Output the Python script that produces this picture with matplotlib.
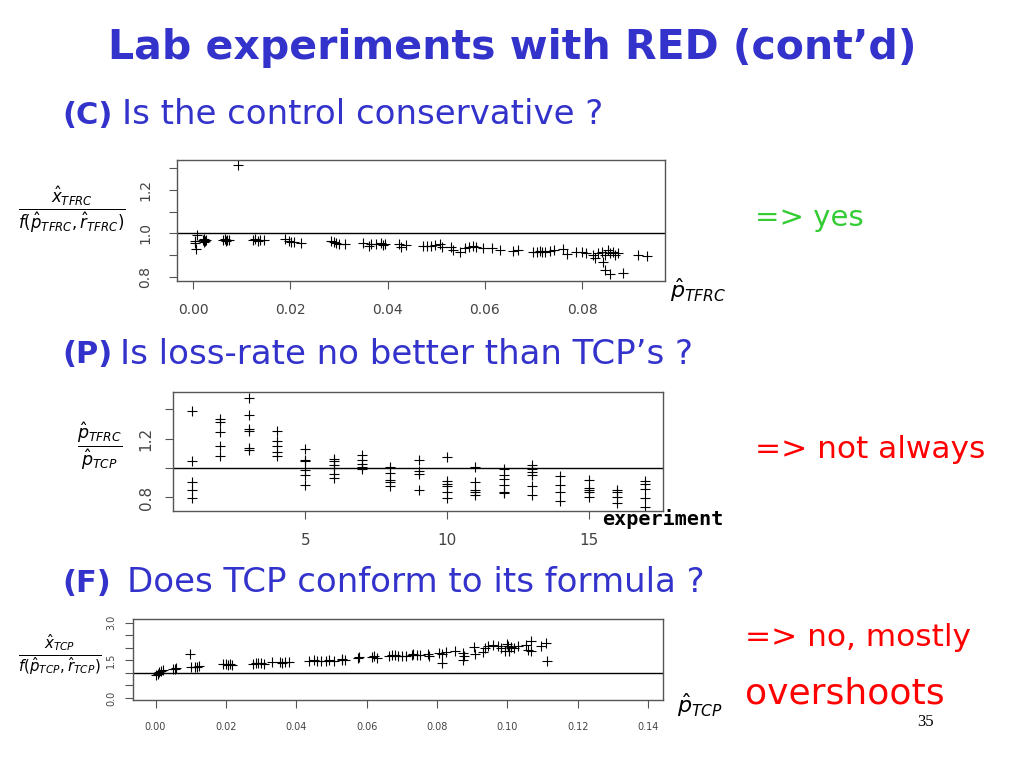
import matplotlib
matplotlib.use("Agg")
import matplotlib.pyplot as plt

# --- data ----------------------------------------------------------------
# (C) TFRC throughput ratio vs TFRC loss-rate
tfrc_p = [0.0008, 0.0005, 0.0007, 0.0004, 0.0020, 0.0023, 0.0025, 0.0022, 0.0027,
          0.0061, 0.0065, 0.0070, 0.0073, 0.0068, 0.0092, 0.0123, 0.0128, 0.0133,
          0.0137, 0.0145, 0.0190, 0.0197, 0.0201, 0.0207, 0.0222, 0.0284, 0.0289,
          0.0294, 0.0299, 0.0313, 0.0349, 0.0361, 0.0366, 0.0376, 0.0386, 0.0391,
          0.0395, 0.0423, 0.0427, 0.0438, 0.0472, 0.0480, 0.0489, 0.0498, 0.0507,
          0.0512, 0.0531, 0.0534, 0.0548, 0.0558, 0.0568, 0.0575, 0.0581, 0.0596,
          0.0615, 0.0630, 0.0658, 0.0668, 0.0698, 0.0706, 0.0713, 0.0718, 0.0723,
          0.0733, 0.0742, 0.0761, 0.0769, 0.0788, 0.0799, 0.0808, 0.0821, 0.0826,
          0.0833, 0.0840, 0.0847, 0.0852, 0.0856, 0.0863, 0.0867, 0.0874, 0.0843,
          0.0847, 0.0857, 0.0883, 0.0915, 0.0933]
tfrc_ratio = [0.992, 0.965, 0.926, 0.955, 0.969, 0.974, 0.965, 0.958, 0.968,
              0.969, 0.974, 0.968, 0.971, 0.963, 1.315, 0.968, 0.974, 0.965,
              0.969, 0.971, 0.974, 0.965, 0.958, 0.958, 0.954, 0.965, 0.958,
              0.955, 0.952, 0.949, 0.954, 0.943, 0.949, 0.952, 0.954, 0.946,
              0.952, 0.949, 0.938, 0.946, 0.943, 0.943, 0.943, 0.946, 0.949,
              0.938, 0.938, 0.923, 0.915, 0.931, 0.938, 0.943, 0.938, 0.931,
              0.931, 0.923, 0.918, 0.922, 0.912, 0.915, 0.918, 0.912, 0.915,
              0.918, 0.925, 0.928, 0.903, 0.912, 0.912, 0.909, 0.900, 0.885,
              0.908, 0.915, 0.900, 0.923, 0.908, 0.915, 0.900, 0.908, 0.869,
              0.831, 0.811, 0.815, 0.900, 0.897]

# (P) loss-rate ratio TFRC/TCP per experiment
exp_id = [1, 1, 1, 1, 1,
          2, 2, 2, 2, 2,
          3, 3, 3, 3, 3, 3,
          4, 4, 4, 4, 4,
          5, 5, 5, 5, 5, 5,
          6, 6, 6, 6, 6, 6,
          7, 7, 7, 7, 7,
          8, 8, 8, 8, 8,
          9, 9, 9, 9,
          10, 10, 10, 10, 10, 10,
          11, 11, 11, 11, 11,
          12, 12, 12, 12, 12, 12,
          13, 13, 13, 13, 13, 13,
          14, 14, 14, 14,
          15, 15, 15, 15, 15,
          16, 16, 16, 16,
          17, 17, 17, 17, 17]
loss_ratio = [1.389, 1.045, 0.906, 0.854, 0.798,
              1.333, 1.315, 1.243, 1.153, 1.079,
              1.479, 1.360, 1.265, 1.254, 1.135, 1.126,
              1.254, 1.187, 1.153, 1.112, 1.085,
              1.130, 1.058, 1.045, 0.989, 0.955, 0.888,
              1.063, 1.045, 1.018, 1.000, 0.962, 0.933,
              1.090, 1.052, 1.029, 1.007, 0.996,
              1.007, 0.969, 0.917, 0.906, 0.879,
              1.058, 0.978, 0.962, 0.854,
              1.074, 0.910, 0.894, 0.879, 0.838, 0.798,
              1.004, 0.906, 0.849, 0.834, 0.820,
              0.996, 0.955, 0.924, 0.883, 0.838, 0.827,
              1.018, 0.996, 0.973, 0.951, 0.879, 0.816,
              0.946, 0.883, 0.838, 0.775,
              0.917, 0.865, 0.849, 0.834, 0.804,
              0.849, 0.834, 0.800, 0.760,
              0.910, 0.890, 0.856, 0.793, 0.737]

# (F) TCP throughput ratio vs TCP loss-rate
tcp_p = [0.0002, 0.0007, 0.0011, 0.0016, 0.0021, 0.0050, 0.0054, 0.0059, 0.0099,
         0.0102, 0.0111, 0.0119, 0.0123, 0.0192, 0.0199, 0.0205, 0.0211, 0.0216,
         0.0278, 0.0285, 0.0292, 0.0300, 0.0307, 0.0330, 0.0354, 0.0360, 0.0369,
         0.0378, 0.0435, 0.0450, 0.0459, 0.0469, 0.0483, 0.0492, 0.0507, 0.0529,
         0.0531, 0.0538, 0.0574, 0.0578, 0.0616, 0.0622, 0.0628, 0.0663, 0.0671,
         0.0680, 0.0690, 0.0699, 0.0711, 0.0728, 0.0732, 0.0742, 0.0751, 0.0773,
         0.0777, 0.0805, 0.0815, 0.0824, 0.0815, 0.0851, 0.0874, 0.0874, 0.0877,
         0.0905, 0.0909, 0.0931, 0.0936, 0.0945, 0.0959, 0.0973, 0.0983, 0.0992,
         0.1000, 0.1002, 0.1004, 0.1009, 0.1019, 0.1030, 0.1054, 0.1058, 0.1066,
         0.1066, 0.1096, 0.1110, 0.1113]
tcp_ratio = [0.907, 0.973, 1.027, 1.067, 1.107, 1.133, 1.160, 1.187, 1.733,
             1.213, 1.213, 1.240, 1.267, 1.333, 1.347, 1.320, 1.333, 1.320,
             1.347, 1.373, 1.400, 1.373, 1.360, 1.413, 1.440, 1.400, 1.440,
             1.427, 1.467, 1.507, 1.480, 1.480, 1.480, 1.507, 1.467, 1.533,
             1.520, 1.520, 1.587, 1.613, 1.627, 1.653, 1.600, 1.653, 1.707,
             1.693, 1.680, 1.667, 1.653, 1.707, 1.747, 1.707, 1.720, 1.760,
             1.680, 1.787, 1.760, 1.813, 1.400, 1.867, 1.787, 1.520, 1.653,
             2.027, 1.760, 1.827, 1.987, 2.067, 2.120, 2.067, 1.987, 1.853,
             2.160, 2.080, 1.880, 2.013, 1.973, 2.053, 2.107, 1.893, 2.267,
             1.867, 2.053, 2.187, 1.453]

p1_xticks = [0.00, 0.02, 0.04, 0.06, 0.08]
p1_yticks = [0.8, 0.9, 1.0, 1.1, 1.2, 1.3]
p1_ylabels = ["0.8", "", "1.0", "", "1.2", ""]
p2_xticks = [5, 10, 15]
p2_yticks = [0.8, 1.0, 1.2, 1.4]
p2_ylabels = ["0.8", "", "1.2", ""]
p3_xticks = [0.00, 0.02, 0.04, 0.06, 0.08, 0.10, 0.12, 0.14]
p3_yticks = [0.0, 0.5, 1.0, 1.5, 2.0, 2.5, 3.0]
p3_ylabels = ["0.0", "", "", "1.5", "", "", "3.0"]

W, H = 1024, 768
BLUE = "#3333cc"
RED = "#ff0000"
GREEN = "#33cc33"
GREY = "#555555"

fig = plt.figure(figsize=(W / 100, H / 100), dpi=100)
fig.patch.set_facecolor("white")


def px(x, y):
    return x / W, 1 - y / H


def r_axes(rect, xs, ys, xticks, xlabels, yticks, ylabels, xlim, ylim, fs, ypad):
    l, t, r, b = rect
    ax = fig.add_axes([l / W, 1 - b / H, (r - l) / W, (b - t) / H])
    ax.plot(xs, ys, "+", color="black", ms=7, mew=0.8)
    ax.axhline(1.0, color="black", lw=1.0)
    ax.set_xlim(*xlim)
    ax.set_ylim(*ylim)
    ax.set_xticks(xticks)
    ax.set_xticklabels(xlabels)
    ax.set_yticks(yticks)
    ax.set_yticklabels(ylabels)
    for s in ax.spines.values():
        s.set_color(GREY)
        s.set_linewidth(1.0)
    ax.tick_params(direction="out", length=6, width=0.8, color=GREY,
                   labelcolor="#444444", labelsize=fs)
    ax.tick_params(axis="x", pad=10)
    ax.tick_params(axis="y", pad=ypad, labelrotation=90)
    for lab in ax.get_yticklabels():
        lab.set_va("center")
    return ax


r_axes((177, 160, 665, 281), tfrc_p, tfrc_ratio,
       p1_xticks, ["%.2f" % v for v in p1_xticks], p1_yticks, p1_ylabels,
       (-0.0033, 0.097), (0.78, 1.338), 10, 12)
r_axes((173, 392, 663, 511), exp_id, loss_ratio,
       p2_xticks, [str(v) for v in p2_xticks], p2_yticks, p2_ylabels,
       (0.33, 17.63), (0.708, 1.517), 11, 8)
r_axes((133, 619, 663, 700), tcp_p, tcp_ratio,
       p3_xticks, ["%.2f" % v for v in p3_xticks], p3_yticks, p3_ylabels,
       (-0.0064, 0.1442), (-0.08, 3.14), 7, 6)

# axis labels
fig.text(*px(72, 210), r"$\frac{\hat{x}_{TFRC}}{f(\hat{p}_{TFRC},\hat{r}_{TFRC})}$",
         fontsize=17, ha="center", va="center")
fig.text(*px(100, 447), r"$\frac{\hat{p}_{TFRC}}{\hat{p}_{TCP}}$",
         fontsize=18, ha="center", va="center")
fig.text(*px(60, 655), r"$\frac{\hat{x}_{TCP}}{f(\hat{p}_{TCP},\hat{r}_{TCP})}$",
         fontsize=15.5, ha="center", va="center")
fig.text(*px(698, 290), r"$\hat{p}_{TFRC}$", fontsize=16, ha="center", va="center")
fig.text(*px(663, 519), "experiment", fontsize=14.5, fontweight="bold",
         family="DejaVu Sans Mono", ha="center", va="center")
fig.text(*px(700, 705), r"$\hat{p}_{TCP}$", fontsize=16, ha="center", va="center")

# slide text
fig.text(*px(512, 48), "Lab experiments with RED (cont\u2019d)", color=BLUE,
         fontsize=29.5, fontweight="bold", ha="center", va="center")
rows = [(115, "(C)", 122, "Is the control conservative ?"),
        (355, "(P)", 120, "Is loss-rate no better than TCP\u2019s ?"),
        (583, "(F)", 127, "Does TCP conform to its formula ?")]
for y, tag, x2, line in rows:
    fig.text(*px(62, y), tag, color=BLUE, fontsize=22, fontweight="bold",
             ha="left", va="center")
    fig.text(*px(x2, y), line, color=BLUE, fontsize=24.5, ha="left", va="center")

fig.text(*px(755, 218), "=> yes", color=GREEN, fontsize=21, ha="left", va="center")
fig.text(*px(755, 450), "=> not always", color=RED, fontsize=22.5, ha="left", va="center")
fig.text(*px(745, 637), "=> no, mostly", color=RED, fontsize=22.5, ha="left", va="center")
fig.text(*px(745, 693), "overshoots", color=RED, fontsize=26, ha="left", va="center")
fig.text(*px(926, 722), "35", color="black", fontsize=12, family="Liberation Serif",
         ha="center", va="center")

fig.savefig("out.png", dpi=100)
